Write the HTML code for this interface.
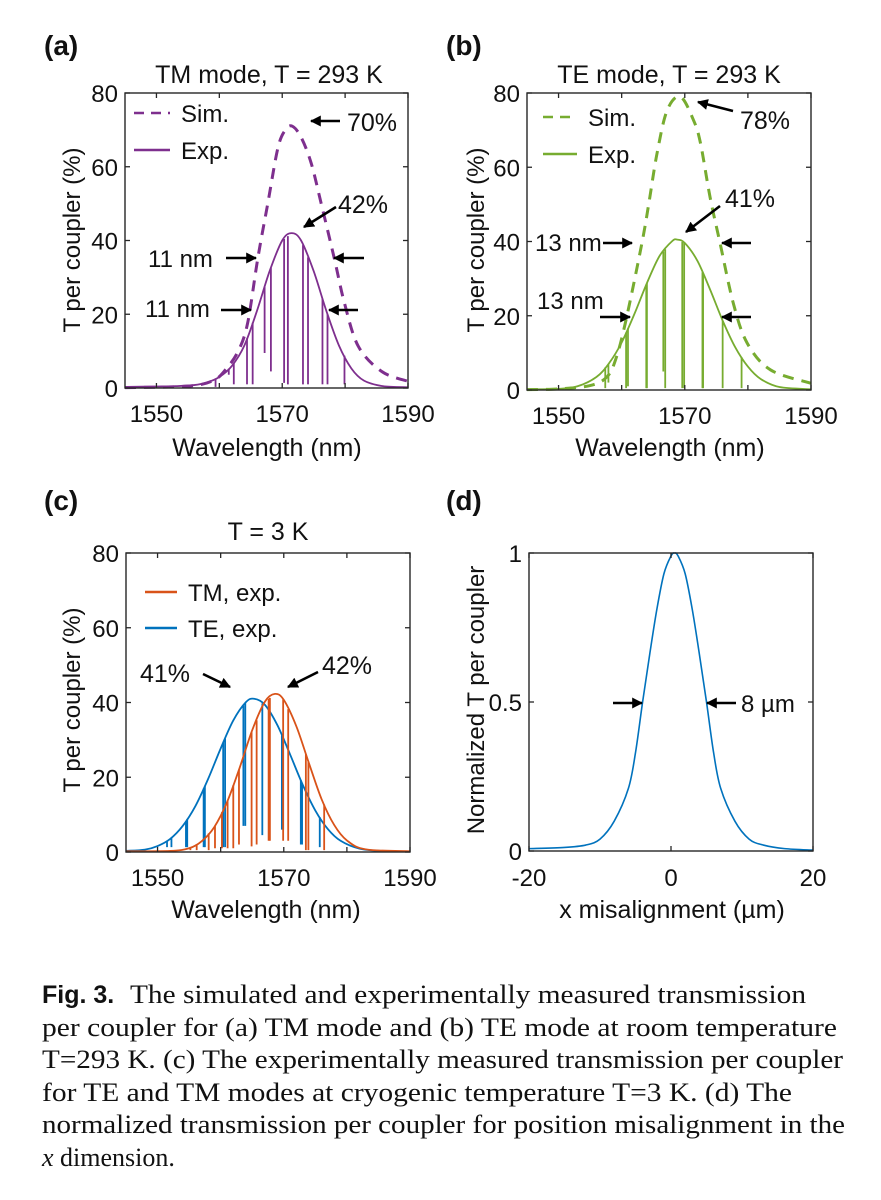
<!DOCTYPE html>
<html><head><meta charset="utf-8">
<style>
html,body{margin:0;padding:0;background:#fff;}
svg{display:block;}
text{font-family:"Liberation Sans",Arial,sans-serif;fill:#111;}
.cap{font-family:"Liberation Serif","Times New Roman",serif;font-size:26px;}
</style></head>
<body>
<svg id="fig" width="881" height="1200" viewBox="0 0 881 1200" xmlns="http://www.w3.org/2000/svg">
<defs>
<marker id="ah" viewBox="0 0 10 10" refX="9" refY="5" markerWidth="4.2" markerHeight="4.2" orient="auto"><path d="M0,0 L10,5 L0,10 z" fill="#000"/></marker>
</defs>
<g id="layer"></g>
<g>
<text x="42" y="1003" font-size="25" font-weight="bold">Fig. 3.</text>
<text class="cap" x="130" y="1003" textLength="676" lengthAdjust="spacingAndGlyphs">The simulated and experimentally measured transmission</text>
<text class="cap" x="42" y="1036" textLength="795" lengthAdjust="spacingAndGlyphs">per coupler for (a) TM mode and (b) TE mode at room temperature</text>
<text class="cap" x="42" y="1068" textLength="801" lengthAdjust="spacingAndGlyphs">T=293 K. (c) The experimentally measured transmission per coupler</text>
<text class="cap" x="42" y="1101" textLength="750" lengthAdjust="spacingAndGlyphs">for TE and TM modes at cryogenic temperature T=3 K. (d) The</text>
<text class="cap" x="42" y="1133" textLength="803" lengthAdjust="spacingAndGlyphs">normalized transmission per coupler for position misalignment in the</text>
<text class="cap" x="42" y="1166"><tspan font-style="italic">x</tspan> dimension.</text>
</g>
</svg>
<script>
// ---- data ----
const aExpWl = [1545,1550,1553,1556,1558,1560,1562,1564,1566,1568,1570,1571.5,1573,1575,1577,1579,1581,1583,1586,1590];
const aExpT  = [0.3,0.4,0.5,0.8,1.5,3,6,11.6,21,31.7,40,42,40,31.7,21,11.6,5.3,2,0.5,0.2];
const aSimWl = [1545,1555,1559,1561,1563,1564.5,1566.1,1567.7,1569.3,1570.5,1571.6,1573,1574.6,1576.2,1578.3,1579.9,1582.1,1585.8,1590];
const aSimT  = [0.1,0.5,2,5,10,17.6,35,50,65,70,71,68,61,50,35,23,11.3,4.5,1.8];
const aDipWl = [1559.4,1561.5,1562.3,1564.4,1565.3,1567.2,1568.2,1570.3,1570.9,1573.3,1574.1,1576.4,1577.2,1579.9];
const aDipMin= [0.3,3.6,1,1,1,9.5,4.5,1.4,1,1,1,1,1,1];

const bExpWl = [1545,1550,1553,1556,1558,1560,1562,1564,1566,1568,1568.8,1570,1572,1574,1576,1578,1580,1582,1585,1590];
const bExpT  = [0.2,0.3,1,3.5,7.2,12.8,20.4,28.8,36.1,40.1,40.5,39.6,34.8,27.1,18.7,11.5,6.3,3,0.8,0.2];
const bSimWl = [1545,1550,1555,1557.7,1559.2,1560.8,1563.2,1564.3,1565.6,1567.2,1569.3,1571.4,1572.5,1574,1575.6,1577.7,1579.9,1583.6,1590];
const bSimT  = [0.1,0.3,1.2,3.6,9,19.7,39.5,50.2,63.7,75.3,79,72.6,66.4,52,39.5,23.3,12.6,5.4,1.8];
const bDipWl = [1557.4,1557.9,1560.7,1561.0,1563.9,1564.0,1566.6,1566.9,1569.6,1569.9,1572.8,1572.9,1576.0,1579.0];
const bDipMin= [0.5,2,0.5,1,0.5,0.5,5,0.5,0.5,0.5,0.5,0.5,0.5,0.5];

const cTeWl = [1545,1548,1550,1552,1554,1556,1558,1560,1562,1564,1565.3,1567,1569,1571,1573,1575,1577,1579,1582,1586,1590];
const cTeT  = [0.3,0.64,1.6,3.5,7,12.3,19.5,27.7,35.2,40.1,41,39.4,33.9,26.1,18,11.1,6.1,3,0.9,0.2,0.1];
const cTmWl = [1545,1552,1555,1557,1559,1561,1563,1565,1567,1568.6,1570,1572,1574,1576,1578,1580,1583,1590];
const cTmT  = [0.2,0.3,1,2.9,6.7,13.3,22.5,32.6,40.2,42.3,40.7,33.6,23.7,14.1,7.2,3.1,0.7,0.2];
const cTeDipWl = [1551.5,1552.2,1554.5,1554.7,1557.3,1557.5,1560.4,1560.7,1563.6,1563.9,1566.6,1569.7,1569.9,1572.7,1572.9,1575.7];
const cTeDipMin= [1.3,1.3,1.3,1.3,1.3,1.3,1.3,1.3,7,7,4.5,6,6,2,2,1.3];
const cTmDipWl = [1555.2,1556.2,1558.1,1559.1,1560.2,1561.1,1562.0,1562.9,1564.9,1565.7,1567.6,1567.8,1569.9,1570.7,1573.5,1573.9,1576.4];
const cTmDipMin= [0.5,0.5,0.5,1,1,1,1,2,1.5,2,3,3,3,3,0.5,0.5,0.5];

const dX = [-20,-15,-12,-10,-8,-6,-5,-4,-3,-2,-1,0,0.5,1,2,3,4,5,6,7,9,11,13,16,20];
const dT = [0.008,0.012,0.02,0.04,0.1,0.21,0.33,0.5,0.66,0.81,0.93,0.99,1,0.99,0.93,0.81,0.66,0.5,0.33,0.21,0.1,0.04,0.02,0.008,0.003];

const wlTicks = [1550,1560,1570,1580,1590];
const wlLabels = ['1550','','1570','','1590'];
const pctTicks = [0,20,40,60,80];
const misTicks = [-20,0,20];
const normTicks = [0,0.5,1];
const normLabels = ['0','0.5','1'];

const PURPLE='#7E2F8E', GREEN='#77AC30', ORANGE='#D95319', BLUE='#0072BD';
const NS='http://www.w3.org/2000/svg';
const layer=document.getElementById('layer');

function mk(tag, attrs, parent){
  const e=document.createElementNS(NS,tag);
  for(const k in attrs) e.setAttribute(k,attrs[k]);
  (parent||layer).appendChild(e);
  return e;
}
function axes(x0,x1,y0,y1,xmin,xmax,ymin,ymax){
  return {sx:v=>x0+(v-xmin)/(xmax-xmin)*(x1-x0), sy:v=>y0-(v-ymin)/(ymax-ymin)*(y0-y1), x0,x1,y0,y1};
}
function smoothPath(ax,xs,ys){
  const p=xs.map((x,i)=>[ax.sx(x),ax.sy(ys[i])]);
  let d='M'+p[0][0].toFixed(2)+','+p[0][1].toFixed(2);
  for(let i=0;i<p.length-1;i++){
    const p0=p[Math.max(0,i-1)],p1=p[i],p2=p[i+1],p3=p[Math.min(p.length-1,i+2)];
    const c1=[p1[0]+(p2[0]-p0[0])/6,p1[1]+(p2[1]-p0[1])/6];
    const c2=[p2[0]-(p3[0]-p1[0])/6,p2[1]-(p3[1]-p1[1])/6];
    d+=' C'+c1.map(v=>v.toFixed(2)).join(',')+' '+c2.map(v=>v.toFixed(2)).join(',')+' '+p2[0].toFixed(2)+','+p2[1].toFixed(2);
  }
  return d;
}
function interp(xs,ys,x){
  if(x<=xs[0]) return ys[0];
  for(let i=0;i<xs.length-1;i++){
    if(x<=xs[i+1]){const t=(x-xs[i])/(xs[i+1]-xs[i]);return ys[i]+t*(ys[i+1]-ys[i]);}
  }
  return ys[ys.length-1];
}
function txt(x,y,s,size,anchor,extra){
  const t=mk('text',Object.assign({x:x,y:y,'font-size':size,'text-anchor':anchor||'start'},extra||{}));
  t.textContent=s;
  return t;
}
function frame(ax,name){
  const r=mk('rect',{x:ax.x0,y:ax.y1,width:ax.x1-ax.x0,height:ax.y0-ax.y1,fill:'none',stroke:'#262626','stroke-width':1.4});
  
  
}
function xTicks(ax,vals,labels,name){
  vals.forEach((v,i)=>{
    const x=ax.sx(v);
    const t1=mk('line',{x1:x,x2:x,y1:ax.y0,y2:ax.y0-5,stroke:'#262626','stroke-width':1.3});
    
    
    const t2=mk('line',{x1:x,x2:x,y1:ax.y1,y2:ax.y1+5,stroke:'#262626','stroke-width':1.3});
    
    
    if(labels[i]){
      const l=txt(x,ax.y0+34,labels[i],24,'middle');
      
      
    }
  });
}
function yTicks(ax,vals,labels,name){
  vals.forEach((v,i)=>{
    const y=ax.sy(v);
    const t1=mk('line',{x1:ax.x0,x2:ax.x0+5,y1:y,y2:y,stroke:'#262626','stroke-width':1.3});
    
    
    const t2=mk('line',{x1:ax.x1,x2:ax.x1-5,y1:y,y2:y,stroke:'#262626','stroke-width':1.3});
    
    
    const l=txt(ax.x0-7,y+9,labels[i],24,'end');
    
    
  });
}
function curve(ax,xs,ys,color,w,dash,name){
  const p=mk('path',{d:smoothPath(ax,xs,ys),fill:'none',stroke:color,'stroke-width':w,'stroke-linejoin':'round'});
  if(dash) p.setAttribute('stroke-dasharray',dash);
  
  
}
function dips(ax,cx,cy,dx,dm,color,name){
  dx.forEach((w,i)=>{
    const top=interp(cx,cy,w);
    const l=mk('line',{x1:ax.sx(w),x2:ax.sx(w),y1:ax.sy(top),y2:ax.sy(dm[i]),stroke:color,'stroke-width':1.8});
    
    
  });
}
function arrow(x1,y1,x2,y2,name){
  const a=mk('line',{x1:x1,y1:y1,x2:x2,y2:y2,stroke:'#000','stroke-width':2.6,'marker-end':'url(#ah)'});
  
  
}
function label(x,y,s,size,anchor,name,extra){
  const t=txt(x,y,s,size,anchor,extra);
  
  
}
function legendLine(x1,x2,y,color,dash,name){
  const l=mk('line',{x1:x1,x2:x2,y1:y,y2:y,stroke:color,'stroke-width':2.5});
  if(dash) l.setAttribute('stroke-dasharray',dash);
  
  
}
function yTitle(x,y,s,name){
  const t=txt(0,0,s,24,'middle',{transform:'translate('+x+','+y+') rotate(-90)'});
  
  
}

// ---- panel a ----
const A=axes(125,408,388,93,1545,1590,0,80);
curve(A,aSimWl,aSimT,PURPLE,3,'11,8','a-sim-line');
curve(A,aExpWl,aExpT,PURPLE,1.8,null,'a-exp-line');
dips(A,aExpWl,aExpT,aDipWl,aDipMin,PURPLE,'a-exp-dip');
frame(A,'a');
xTicks(A,wlTicks,wlLabels,'a');
yTicks(A,pctTicks,pctTicks.map(String),'a');
label(44,55,'(a)',28,'start','a-panel-label',{'font-weight':'bold'});
label(269,83,'TM mode, T = 293 K',25,'middle','a-title');
label(267,456,'Wavelength (nm)',25,'middle','a-x-axis-title');
yTitle(80,240,'T per coupler (%)','a-y-axis-title');
legendLine(134,170,113,PURPLE,'10,7','a-legend-sim-swatch');
label(181,122,'Sim.',24,'start','a-legend-sim-label');
legendLine(134,170,150,PURPLE,null,'a-legend-exp-swatch');
label(181,159,'Exp.',24,'start','a-legend-exp-label');
arrow(340,121,311,121,'a-arrow-70');
label(347,131,'70%',25,'start','a-annot-70');
arrow(336,207,304,227,'a-arrow-42');
label(338,213,'42%',25,'start','a-annot-42');
label(148,267,'11 nm',24,'start','a-annot-fwhm-sim');
arrow(226,258,256,258,'a-arrow-fwhm-sim-left');
arrow(364,258,334,258,'a-arrow-fwhm-sim-right');
label(145,317,'11 nm',24,'start','a-annot-fwhm-exp');
arrow(221,310,251,310,'a-arrow-fwhm-exp-left');
arrow(358,310,329,310,'a-arrow-fwhm-exp-right');

// ---- panel b ----
const B=axes(527,811,390,93,1545,1590,0,80);
curve(B,bSimWl,bSimT,GREEN,3,'11,8','b-sim-line');
curve(B,bExpWl,bExpT,GREEN,1.8,null,'b-exp-line');
dips(B,bExpWl,bExpT,bDipWl,bDipMin,GREEN,'b-exp-dip');
frame(B,'b');
xTicks(B,wlTicks,wlLabels,'b');
yTicks(B,pctTicks,pctTicks.map(String),'b');
label(446,55,'(b)',28,'start','b-panel-label',{'font-weight':'bold'});
label(669,83,'TE mode, T = 293 K',25,'middle','b-title');
label(670,456,'Wavelength (nm)',25,'middle','b-x-axis-title');
yTitle(484,240,'T per coupler (%)','b-y-axis-title');
legendLine(543,577,117,GREEN,'10,7','b-legend-sim-swatch');
label(588,126,'Sim.',24,'start','b-legend-sim-label');
legendLine(543,577,154,GREEN,null,'b-legend-exp-swatch');
label(588,163,'Exp.',24,'start','b-legend-exp-label');
arrow(733,111,698,102,'b-arrow-78');
label(740,129,'78%',25,'start','b-annot-78');
arrow(720,206,686,232,'b-arrow-41');
label(725,207,'41%',25,'start','b-annot-41');
label(535,251,'13 nm',24,'start','b-annot-fwhm-sim');
arrow(603,243,632,243,'b-arrow-fwhm-sim-left');
arrow(751,243,722,243,'b-arrow-fwhm-sim-right');
label(537,309,'13 nm',24,'start','b-annot-fwhm-exp');
arrow(600,317,630,317,'b-arrow-fwhm-exp-left');
arrow(751,317,722,317,'b-arrow-fwhm-exp-right');

// ---- panel c ----
const C=axes(126,410,852,553,1545,1590,0,80);
curve(C,cTeWl,cTeT,BLUE,1.8,null,'c-te-line');
dips(C,cTeWl,cTeT,cTeDipWl,cTeDipMin,BLUE,'c-te-dip');
curve(C,cTmWl,cTmT,ORANGE,1.8,null,'c-tm-line');
dips(C,cTmWl,cTmT,cTmDipWl,cTmDipMin,ORANGE,'c-tm-dip');
frame(C,'c');
xTicks(C,wlTicks,wlLabels,'c');
yTicks(C,pctTicks,pctTicks.map(String),'c');
label(44,510,'(c)',28,'start','c-panel-label',{'font-weight':'bold'});
label(268,540,'T = 3 K',25,'middle','c-title');
label(266,918,'Wavelength (nm)',25,'middle','c-x-axis-title');
yTitle(80,700,'T per coupler (%)','c-y-axis-title');
legendLine(145,177,592,ORANGE,null,'c-legend-tm-swatch');
label(188,601,'TM, exp.',24,'start','c-legend-tm-label');
legendLine(145,177,628,BLUE,null,'c-legend-te-swatch');
label(188,637,'TE, exp.',24,'start','c-legend-te-label');
label(140,682,'41%',25,'start','c-annot-41');
arrow(203,674,230,687,'c-arrow-41');
label(322,674,'42%',25,'start','c-annot-42');
arrow(318,672,288,687,'c-arrow-42');

// ---- panel d ----
const D=axes(529,813,851,553,-20,20,0,1);
curve(D,dX,dT,BLUE,1.6,null,'d-misalignment-line');
frame(D,'d');
misTicks.forEach(v=>{
  const x=D.sx(v);
  const t1=mk('line',{x1:x,x2:x,y1:D.y0,y2:D.y0-5,stroke:'#262626','stroke-width':1.3});
  
  
  const t2=mk('line',{x1:x,x2:x,y1:D.y1,y2:D.y1+5,stroke:'#262626','stroke-width':1.3});
  
  
  const l=txt(x,D.y0+35,String(v),24,'middle');
  
  
});
yTicks(D,normTicks,normLabels,'d');
label(446,510,'(d)',28,'start','d-panel-label',{'font-weight':'bold'});
label(672,918,'x misalignment (µm)',25,'middle','d-x-axis-title');
yTitle(484,700,'Normalized T per coupler','d-y-axis-title');
arrow(613,703,642,703,'d-arrow-left');
arrow(736,703,707,703,'d-arrow-right');
label(741,712,'8 µm',24,'start','d-annot-8um');
</script>
</body></html>
